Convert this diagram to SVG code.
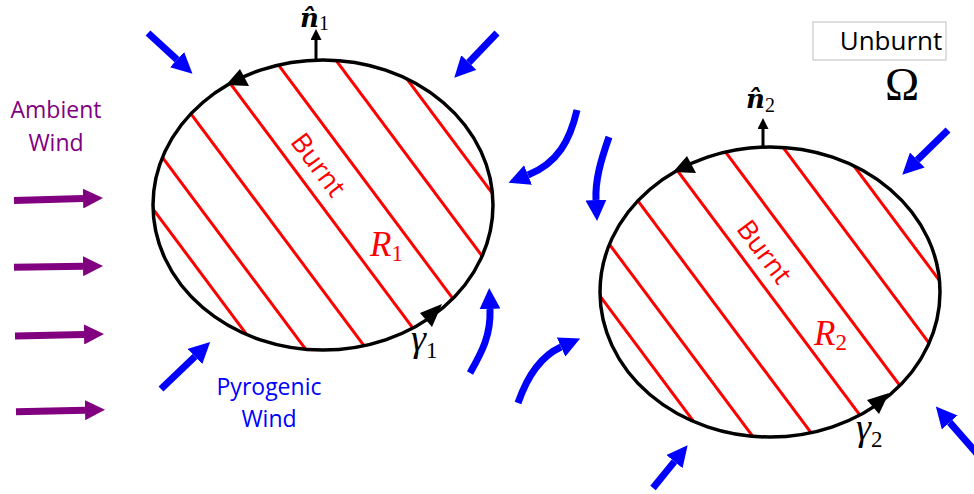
<svg xmlns="http://www.w3.org/2000/svg" width="974" height="494" viewBox="0 0 974 494">
<defs>
<style>
.hatch{stroke:#ff0000;stroke-width:3;fill:none}
.bound{stroke:#000;stroke-width:3.5;fill:none}
.tri{fill:#000}
.normal{stroke:#000;stroke-width:3;fill:none}
.blue{stroke:#0000ff;stroke-width:7;fill:none}
.purple{stroke:#800080;stroke-width:7;fill:none}
.sans{font-family:"Open Sans","Liberation Sans",sans-serif}
.math{font-family:"Liberation Serif","DejaVu Serif",serif;font-style:italic}
.bold{font-family:"DejaVu Serif","Liberation Serif",serif;font-style:italic;font-weight:bold}
.sub{font-family:"Liberation Serif","DejaVu Serif",serif;font-style:normal;font-weight:normal}
</style>
<clipPath id="clipE" clipPathUnits="userSpaceOnUse"><ellipse cx="323" cy="205" rx="170" ry="145"/></clipPath>
<marker id="blueHead" viewBox="0 0 10 10" refX="0" refY="5" markerWidth="21" markerHeight="21" markerUnits="userSpaceOnUse" orient="auto"><path d="M0,0 L10,5 L0,10 z" fill="#0000ff"/></marker>
<marker id="purpleHead" viewBox="0 0 10 10" refX="0" refY="5" markerWidth="20" markerHeight="20" markerUnits="userSpaceOnUse" orient="auto"><path d="M0,0 L10,5 L0,10 z" fill="#800080"/></marker>
<marker id="blackHead" viewBox="0 0 10 10" refX="0" refY="5" markerWidth="11" markerHeight="11" markerUnits="userSpaceOnUse" orient="auto"><path d="M0,0 L10,5 L0,10 z" fill="#000"/></marker>
</defs>
<rect width="974" height="494" fill="#fff"/>

<g id="region1">
  <g id="region1-shape">
    <g clip-path="url(#clipE)">
      <line class="hatch" x1="34.3" y1="50" x2="265.7" y2="360"/>
      <line class="hatch" x1="82.3" y1="50" x2="313.7" y2="360"/>
      <line class="hatch" x1="143.3" y1="50" x2="374.7" y2="360"/>
      <line class="hatch" x1="205.3" y1="50" x2="436.7" y2="360"/>
      <line class="hatch" x1="267.3" y1="50" x2="498.7" y2="360"/>
      <line class="hatch" x1="328.3" y1="50" x2="559.7" y2="360"/>
      <line class="hatch" x1="385.3" y1="50" x2="616.7" y2="360"/>
    </g>
    <ellipse class="bound" cx="323" cy="205" rx="170" ry="145"/>
    <polygon class="tri" points="226,85 240,69 249,86"/>
    <polygon class="tri" points="442,304 420,313 432,327"/>
    <line class="normal" x1="316" y1="60" x2="316" y2="40" marker-end="url(#blackHead)"/>
  </g>
  <text class="sans" x="0" y="9" font-size="27" fill="#ff0000" text-anchor="middle" transform="translate(318,165) rotate(53)">Burnt</text>
  <text class="math" x="370" y="256" font-size="35" fill="#ff0000">R<tspan class="sub" font-size="23" dy="5">1</tspan></text>
  <text class="math" x="411" y="351" font-size="38" fill="#000">γ<tspan class="sub" font-size="23" dy="7">1</tspan></text>
  <text class="bold" x="300" y="27" font-size="26" fill="#000">n̂<tspan class="sub" font-size="20" dy="3">1</tspan></text>
</g>

<g id="region2">
  <g transform="translate(447,87)">
    <g clip-path="url(#clipE)">
      <line class="hatch" x1="34.3" y1="50" x2="265.7" y2="360"/>
      <line class="hatch" x1="82.3" y1="50" x2="313.7" y2="360"/>
      <line class="hatch" x1="143.3" y1="50" x2="374.7" y2="360"/>
      <line class="hatch" x1="205.3" y1="50" x2="436.7" y2="360"/>
      <line class="hatch" x1="267.3" y1="50" x2="498.7" y2="360"/>
      <line class="hatch" x1="328.3" y1="50" x2="559.7" y2="360"/>
      <line class="hatch" x1="385.3" y1="50" x2="616.7" y2="360"/>
    </g>
    <ellipse class="bound" cx="323" cy="205" rx="170" ry="145"/>
    <polygon class="tri" points="226,85 240,69 249,86"/>
    <polygon class="tri" points="442,306 420,313 432,327"/>
    <line class="normal" x1="316" y1="60" x2="316" y2="42" marker-end="url(#blackHead)"/>
  </g>
  <text class="sans" x="0" y="9" font-size="27" fill="#ff0000" text-anchor="middle" transform="translate(764,252) rotate(53)">Burnt</text>
  <text class="math" x="814" y="345" font-size="35" fill="#ff0000">R<tspan class="sub" font-size="23" dy="5">2</tspan></text>
  <text class="math" x="856" y="440" font-size="38" fill="#000">γ<tspan class="sub" font-size="23" dy="7">2</tspan></text>
  <text class="bold" x="746" y="108" font-size="26" fill="#000">n̂<tspan class="sub" font-size="20" dy="4">2</tspan></text>
</g>

<g id="connectors">
  <path class="purple" d="M14,200.5 L83,198.5" marker-end="url(#purpleHead)"/>
  <path class="purple" d="M14,267.3 L83,266.2" marker-end="url(#purpleHead)"/>
  <path class="purple" d="M15,336 L84,334.5" marker-end="url(#purpleHead)"/>
  <path class="purple" d="M16,411.7 L85,410.2" marker-end="url(#purpleHead)"/>

  <path class="blue" d="M148,33 L177,59.6" marker-end="url(#blueHead)"/>
  <path class="blue" d="M497,33 L468.8,62.5" marker-end="url(#blueHead)"/>
  <path class="blue" d="M161,389 L195,356.5" marker-end="url(#blueHead)"/>
  <path class="blue" d="M948,130 L917.3,160" marker-end="url(#blueHead)"/>
  <path class="blue" d="M980,457 L949.7,422.4" marker-end="url(#blueHead)"/>
  <path class="blue" d="M653,488 L674.4,461.6" marker-end="url(#blueHead)"/>

  <path class="blue" d="M577,110 C570,140 558,163 528,175" marker-end="url(#blueHead)"/>
  <path class="blue" d="M609,137 C601,160 595,180 596,200" marker-end="url(#blueHead)"/>
  <path class="blue" d="M470,373 C482,352 491,335 490,309" marker-end="url(#blueHead)"/>
  <path class="blue" d="M518,403 C527,377 541,356 561,347" marker-end="url(#blueHead)"/>
</g>

<g id="labels">
  <text class="sans" x="56" y="118" font-size="23" fill="#800080" text-anchor="middle">Ambient</text>
  <text class="sans" x="56" y="151" font-size="23" fill="#800080" text-anchor="middle">Wind</text>
  <text class="sans" x="269" y="395" font-size="23" fill="#0000ff" text-anchor="middle">Pyrogenic</text>
  <text class="sans" x="269" y="427" font-size="23" fill="#0000ff" text-anchor="middle">Wind</text>
</g>

<g id="unburnt">
  <rect x="813" y="22" width="133" height="38" fill="#fff" stroke="#bfbfbf" stroke-width="1"/>
  <text class="sans" x="891" y="50" font-size="26" fill="#000" text-anchor="middle">Unburnt</text>
  <text x="902" y="100" font-size="46" fill="#000" text-anchor="middle" font-family="'Liberation Serif','DejaVu Serif',serif">Ω</text>
</g>
</svg>
